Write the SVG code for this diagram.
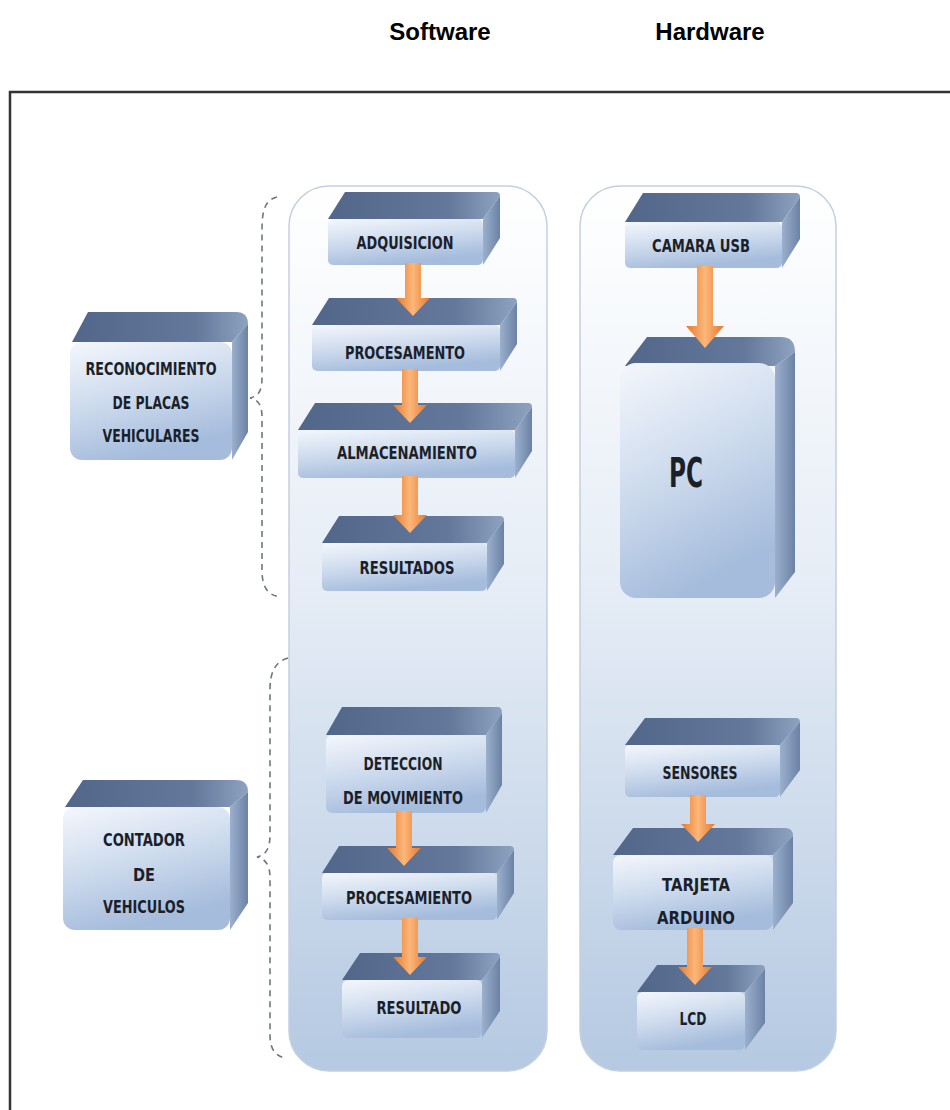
<svg xmlns="http://www.w3.org/2000/svg" width="950" height="1110" viewBox="0 0 950 1110">
<defs>
<linearGradient id="panelG" x1="0" y1="0" x2="0" y2="1">
<stop offset="0" stop-color="#ffffff"/>
<stop offset="0.45" stop-color="#e6edf6"/>
<stop offset="1" stop-color="#b5c9e2"/>
</linearGradient>
<linearGradient id="topG" x1="0" y1="0" x2="1" y2="0">
<stop offset="0" stop-color="#52668a"/>
<stop offset="0.7" stop-color="#63789a"/>
<stop offset="1" stop-color="#8ea2c0"/>
</linearGradient>
<linearGradient id="sideG" x1="0" y1="0" x2="1" y2="0">
<stop offset="0" stop-color="#9bb0cd"/>
<stop offset="1" stop-color="#6c82a5"/>
</linearGradient>
<linearGradient id="frontG" x1="0" y1="0" x2="0.35" y2="1">
<stop offset="0" stop-color="#f4f7fc"/>
<stop offset="0.5" stop-color="#cfdcee"/>
<stop offset="1" stop-color="#a5bcdc"/>
</linearGradient>
<linearGradient id="arrowG" x1="0" y1="0" x2="1" y2="0">
<stop offset="0" stop-color="#e8782a"/>
<stop offset="0.5" stop-color="#fbb77a"/>
<stop offset="1" stop-color="#e8782a"/>
</linearGradient>
<style>
.panel{fill:url(#panelG);stroke:#c3d0df;stroke-width:1.5}
.top{fill:url(#topG)}
.side{fill:url(#sideG)}
.front{fill:url(#frontG)}
.lbl{font-family:"Liberation Sans Narrow","DejaVu Sans Condensed","Liberation Sans",sans-serif;font-weight:bold;font-size:18px;fill:#1b1f2a;text-anchor:middle}
.hdr{font-family:"Liberation Sans",Arial,sans-serif;font-weight:bold;font-size:24px;fill:#000;text-anchor:middle}
.arrow{fill:url(#arrowG)}
.brace{fill:none;stroke:#6f7680;stroke-width:1.6;stroke-dasharray:6 5}
</style>
</defs>
<rect width="950" height="1110" fill="#ffffff"/>
<text class="hdr" x="440" y="40">Software</text>
<text class="hdr" x="710" y="40">Hardware</text>
<path d="M10,1110 L10,92 L950,92" fill="none" stroke="#333" stroke-width="2.5"/>

<g id="panel-software"><rect class="panel" x="289" y="186" width="258" height="885" rx="40"/></g>
<g id="panel-hardware"><rect class="panel" x="580" y="186" width="256" height="885" rx="40"/></g>

<g id="reconocimiento">
<path class="top" d="M72,342 L88,312 L236,312 Q248,312 248,324 L232,342 Z"/>
<path class="side" d="M232,342 L248,324 L248,432 L232,460 Z"/>
<rect class="front" x="70" y="342" width="162" height="118" rx="12"/>
<text class="lbl" x="151" y="375" textLength="131" lengthAdjust="spacingAndGlyphs">RECONOCIMIENTO</text>
<text class="lbl" x="151" y="409" textLength="77" lengthAdjust="spacingAndGlyphs">DE PLACAS</text>
<text class="lbl" x="151" y="442" textLength="97" lengthAdjust="spacingAndGlyphs">VEHICULARES</text>
</g>
<g id="contador">
<path class="top" d="M65,807 L83,780 L236,780 Q248,780 248,792 L230,807 Z"/>
<path class="side" d="M230,807 L248,792 L248,903 L230,930 Z"/>
<rect class="front" x="63" y="807" width="167" height="123" rx="12"/>
<text class="lbl" x="144" y="846" textLength="82" lengthAdjust="spacingAndGlyphs">CONTADOR</text>
<text class="lbl" x="144" y="881" textLength="22" lengthAdjust="spacingAndGlyphs">DE</text>
<text class="lbl" x="144" y="913" textLength="82" lengthAdjust="spacingAndGlyphs">VEHICULOS</text>
</g>

<g id="adquisicion">
<path class="top" d="M328,219 L345,192 L496,192 Q500,192 500,196 L483,219 Z"/>
<path class="side" d="M483,219 L500,196 L500,238 L483,265 Z"/>
<rect class="front" x="328" y="219" width="155" height="46" rx="5"/>
<text class="lbl" x="405" y="249" textLength="97" lengthAdjust="spacingAndGlyphs">ADQUISICION</text>
</g>
<g id="procesamento">
<path class="top" d="M312,325 L329,298 L513,298 Q517,298 517,302 L500,325 Z"/>
<path class="side" d="M500,325 L517,302 L517,344 L500,371 Z"/>
<rect class="front" x="312" y="325" width="188" height="46" rx="5"/>
<text class="lbl" x="405" y="359" textLength="120" lengthAdjust="spacingAndGlyphs">PROCESAMENTO</text>
</g>
<g id="almacenamiento">
<path class="top" d="M298,430 L315,403 L528,403 Q532,403 532,407 L515,430 Z"/>
<path class="side" d="M515,430 L532,407 L532,451 L515,478 Z"/>
<rect class="front" x="298" y="430" width="217" height="48" rx="5"/>
<text class="lbl" x="407" y="459" textLength="140" lengthAdjust="spacingAndGlyphs">ALMACENAMIENTO</text>
</g>
<g id="resultados">
<path class="top" d="M322,543 L339,516 L500,516 Q504,516 504,520 L487,543 Z"/>
<path class="side" d="M487,543 L504,520 L504,564 L487,591 Z"/>
<rect class="front" x="322" y="543" width="165" height="48" rx="5"/>
<text class="lbl" x="407" y="574" textLength="95" lengthAdjust="spacingAndGlyphs">RESULTADOS</text>
</g>
<g id="deteccion">
<path class="top" d="M326,735 L342,707 L498,707 Q502,707 502,713 L486,735 Z"/>
<path class="side" d="M486,735 L502,713 L502,785 L486,813 Z"/>
<rect class="front" x="326" y="735" width="160" height="78" rx="6"/>
<text class="lbl" x="403" y="770" textLength="79" lengthAdjust="spacingAndGlyphs">DETECCION</text>
<text class="lbl" x="403" y="804" textLength="120" lengthAdjust="spacingAndGlyphs">DE MOVIMIENTO</text>
</g>
<g id="procesamiento">
<path class="top" d="M322,873 L339,846 L510,846 Q514,846 514,850 L497,873 Z"/>
<path class="side" d="M497,873 L514,850 L514,893 L497,920 Z"/>
<rect class="front" x="322" y="873" width="175" height="47" rx="5"/>
<text class="lbl" x="409" y="904" textLength="126" lengthAdjust="spacingAndGlyphs">PROCESAMIENTO</text>
</g>
<g id="resultado">
<path class="top" d="M342,980 L360,953 L496,953 Q500,953 500,957 L482,980 Z"/>
<path class="side" d="M482,980 L500,957 L500,1011 L482,1038 Z"/>
<rect class="front" x="342" y="980" width="140" height="58" rx="6"/>
<text class="lbl" x="419" y="1014" textLength="85" lengthAdjust="spacingAndGlyphs">RESULTADO</text>
</g>

<g id="camara">
<path class="top" d="M625,222 L643,193 L796,193 Q800,193 800,197 L782,222 Z"/>
<path class="side" d="M782,222 L800,197 L800,239 L782,268 Z"/>
<rect class="front" x="625" y="222" width="157" height="46" rx="5"/>
<text class="lbl" x="701" y="252" textLength="98" lengthAdjust="spacingAndGlyphs">CAMARA USB</text>
</g>
<g id="pc">
<path class="top" d="M625,366 L647,337 L781,337 Q795,337 795,352 L775,366 Z"/>
<path class="side" d="M775,366 L795,352 L795,572 L775,598 Z"/>
<rect class="front" x="620" y="363" width="155" height="235" rx="16"/>
<text class="lbl" x="686" y="487" style="font-size:40px" textLength="34" lengthAdjust="spacingAndGlyphs">PC</text>
</g>
<g id="sensores">
<path class="top" d="M625,745 L645,718 L796,718 Q800,718 800,722 L780,745 Z"/>
<path class="side" d="M780,745 L800,722 L800,770 L780,797 Z"/>
<rect class="front" x="625" y="745" width="155" height="52" rx="5"/>
<text class="lbl" x="700" y="779" textLength="75" lengthAdjust="spacingAndGlyphs">SENSORES</text>
</g>
<g id="tarjeta">
<path class="top" d="M613,855 L633,828 L785,828 Q793,828 793,836 L773,855 Z"/>
<path class="side" d="M773,855 L793,836 L793,903 L773,930 Z"/>
<rect class="front" x="613" y="855" width="160" height="75" rx="8"/>
<text class="lbl" x="696" y="891" textLength="68" lengthAdjust="spacingAndGlyphs">TARJETA</text>
<text class="lbl" x="696" y="924" textLength="78" lengthAdjust="spacingAndGlyphs">ARDUINO</text>
</g>
<g id="lcd">
<path class="top" d="M637,992 L657,965 L761,965 Q765,965 765,969 L745,992 Z"/>
<path class="side" d="M745,992 L765,969 L765,1023 L745,1050 Z"/>
<rect class="front" x="637" y="992" width="108" height="58" rx="6"/>
<text class="lbl" x="693" y="1025" textLength="27" lengthAdjust="spacingAndGlyphs">LCD</text>
</g>

<g id="connectors">
<path class="arrow" d="M405,263 L421,263 L421,298 L430,298 L413,316 L396,298 L405,298 Z"/>
<path class="arrow" d="M402,369 L418,369 L418,405 L427,405 L410,423 L393,405 L402,405 Z"/>
<path class="arrow" d="M402,476 L418,476 L418,515 L427,515 L410,533 L393,515 L402,515 Z"/>
<path class="arrow" d="M396,811 L412,811 L412,848 L421,848 L404,866 L387,848 L396,848 Z"/>
<path class="arrow" d="M402,918 L418,918 L418,957 L427,957 L410,975 L393,957 L402,957 Z"/>
<path class="arrow" d="M697,266 L713,266 L713,326 L724,326 L705,348 L686,326 L697,326 Z"/>
<path class="arrow" d="M690,795 L706,795 L706,824 L715,824 L698,842 L681,824 L690,824 Z"/>
<path class="arrow" d="M687,928 L703,928 L703,967 L712,967 L695,985 L678,967 L687,967 Z"/>
<path class="brace" d="M277,197 C265,200 262,210 262,230 L262,378 C262,392 258,396 250,398 C258,400 262,404 262,418 L262,570 C262,588 268,595 280,597"/>
<path class="brace" d="M288,658 C275,662 270,672 270,690 L270,835 C270,850 265,855 257,857 C265,859 270,864 270,878 L270,1035 C270,1050 276,1056 285,1058"/>
</g>
</svg>
